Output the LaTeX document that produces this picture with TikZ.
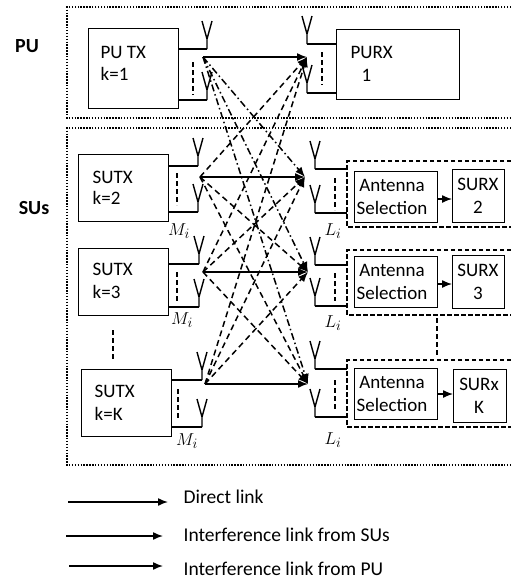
\documentclass[tikz,border=0pt]{standalone}
\usepackage{fontspec}
\setmainfont{Carlito}
\usetikzlibrary{arrows.meta}
\begin{document}
\begin{tikzpicture}[x=1pt,y=-1pt,line width=1.3pt,
  box/.style={draw,line width=1.4pt,inner sep=0pt,anchor=north west},
  txt/.style={inner sep=0pt,font=\fontsize{19}{23}\selectfont},
  lgd/.style={inner sep=0pt,anchor=west,font=\fontsize{19.5}{23}\selectfont},
  grplbl/.style={inner sep=0pt,font=\fontsize{20}{24}\selectfont\bfseries},
  mlab/.style={inner sep=0pt,font=\fontsize{19}{22}\selectfont},
  grp/.style={line width=1.8pt,dash pattern=on 1.4pt off 1.5pt},
  rxgrp/.style={line width=1.3pt,dash pattern=on 4.5pt off 2.5pt},
  sepline/.style={line width=1.5pt,dash pattern=on 5pt off 3pt},
  tip/.style={-{Latex[length=10pt,width=8pt]}},
  direct/.style={line width=1.5pt,tip},
  intsu/.style={line width=1.5pt,dash pattern=on 6pt off 4pt,tip},
  intpu/.style={line width=1.5pt,dash pattern=on 7pt off 3pt on 1.5pt off 3pt,tip},
  ant/.pic={\draw[line width=1.4pt] (0,0) -- (0,-10) (-5,-28) -- (0,-10) -- (5,-28);}
]
\useasboundingbox (0,0) rectangle (511,582);

% group frames
\draw[grp] (511,7) -| (67,118) -- (511,118);
\draw[grp] (511,128) -| (67,465) -- (511,465);
\node[grplbl] (pulbl) at (27,46) {PU};
\node[grplbl] (sulbl) at (34,208) {SUs};

% ---------- PU ----------
\node[box,minimum width=90pt,minimum height=80pt] (putx) at (88,28) {};
\node[txt,anchor=west] (putxa) at (100,52) {PU TX};
\node[txt,anchor=west] (putxb) at (100,74) {k=1};
\draw (178,49) -- (207,49) pic{ant};
\draw (178,100) -- (207,100) pic{ant};
\draw[sepline] (193,62) -- (193,95);

\node[box,minimum width=123pt,minimum height=70pt] (purx) at (336,29) {};
\node[txt,anchor=west] (purxa) at (350,52) {PURX};
\node[txt,anchor=west] (purxb) at (361,75) {1};
\draw (336,44) -- (307,44) pic{ant};
\draw (336,93) -- (307,93) pic{ant};
\draw[sepline] (322,52) -- (322,85);

% ---------- SU transmitters ----------
\node[box,minimum width=90pt,minimum height=67pt] (sutx2) at (78,154) {};
\node[txt,anchor=west] (sutx2a) at (92,177) {SUTX};
\node[txt,anchor=west] (sutx2b) at (92,198) {k=2};
\draw (168,166) -- (198,166) pic{ant};
\draw (168,212) -- (198,212) pic{ant};
\draw[sepline] (177,173) -- (177,205);
\node[mlab] (m2) at (179,231) {$M_i$};

\node[box,minimum width=90pt,minimum height=67pt] (sutx3) at (78,248) {};
\node[txt,anchor=west] (sutx3a) at (92,269) {SUTX};
\node[txt,anchor=west] (sutx3b) at (92,292) {k=3};
\draw (168,264) -- (199,264) pic{ant};
\draw (168,307) -- (199,307) pic{ant};
\draw[sepline] (177,272) -- (177,303);
\node[mlab] (m3) at (182,320) {$M_i$};

\draw[sepline] (113,330) -- (113,360);

\node[box,minimum width=90pt,minimum height=67pt] (sutxK) at (81,369) {};
\node[txt,anchor=west] (sutxKa) at (94,391) {SUTX};
\node[txt,anchor=west] (sutxKb) at (94,414) {k=K};
\draw (171,380) -- (202,380) pic{ant};
\draw (171,427) -- (202,427) pic{ant};
\draw[sepline] (178,389) -- (178,420);
\node[mlab] (mK) at (187,441) {$M_i$};

% ---------- SU receivers ----------
\draw[rxgrp] (511,161) -| (347,227) -- (511,227);
\node[box,minimum width=83pt,minimum height=51pt] (as2) at (354,171) {};
\node[txt,align=center] (as2t) at (392,197) {Antenna\\Selection};
\node[box,minimum width=52pt,minimum height=53pt] (surx2) at (452,169) {};
\node[txt,align=center] (surx2t) at (478,196) {SURX\\2};
\draw[tip] (as2.east |- 0,199) -- (surx2.west |- 0,199);
\draw (347,169) -- (315,169) pic{ant};
\draw (347,213) -- (315,213) pic{ant};
\draw[sepline] (335,178) -- (335,210);
\node[mlab] (l2) at (333,231) {$L_i$};

\draw[rxgrp] (511,250) -| (347,315) -- (511,315);
\node[box,minimum width=83pt,minimum height=51pt] (as3) at (354,256) {};
\node[txt,align=center] (as3t) at (392,282) {Antenna\\Selection};
\node[box,minimum width=52pt,minimum height=53pt] (surx3) at (452,255) {};
\node[txt,align=center] (surx3t) at (478,282) {SURX\\3};
\draw[tip] (as3.east |- 0,284) -- (surx3.west |- 0,284);
\draw (347,265) -- (315,265) pic{ant};
\draw (347,306) -- (315,306) pic{ant};
\draw[sepline] (335,273) -- (335,301);
\node[mlab] (l3) at (333,323) {$L_i$};

\draw[sepline] (437,318) -- (437,357);

\draw[rxgrp] (511,360) -| (347,427) -- (511,427);
\node[box,minimum width=83pt,minimum height=51pt] (asK) at (354,368) {};
\node[txt,align=center] (asKt) at (392,394) {Antenna\\Selection};
\node[box,minimum width=53pt,minimum height=53pt] (surxK) at (453,369) {};
\node[txt,align=center] (surxKt) at (479,396) {SURx\\K};
\draw[tip] (asK.east |- 0,394) -- (surxK.west |- 0,394);
\draw (347,369) -- (315,369) pic{ant};
\draw (347,417) -- (315,417) pic{ant};
\draw[sepline] (335,380) -- (335,411);
\node[mlab] (lK) at (333,440) {$L_i$};

% ---------- link end points ----------
\coordinate (t1) at (203,57);
\coordinate (t2) at (200,177);
\coordinate (t3) at (203,272);
\coordinate (tK) at (205,384);
\coordinate (r1) at (307,57);
\coordinate (r2) at (305,177);
\coordinate (r3) at (308,272);
\coordinate (rK) at (308,384);

% interference from PU
\draw[intpu] (t1) -- (r2);
\draw[intpu] (t1) -- (r3);
\draw[intpu] (t1) -- (rK);
% interference from SUs
\draw[intsu] (t2) -- (r1);
\draw[intsu] (t3) -- (r1);
\draw[intsu] (tK) -- (r1);
\draw[intsu] (t2) -- (r3);
\draw[intsu] (t2) -- (rK);
\draw[intsu] (t3) -- (r2);
\draw[intsu] (t3) -- (rK);
\draw[intsu] (tK) -- (r2);
\draw[intsu] (tK) -- (r3);
% direct links
\draw[direct] (t1) -- (r1);
\draw[direct] (t2) -- (r2);
\draw[direct] (t3) -- (r3);
\draw[direct] (tK) -- (rK);

% ---------- legend ----------
\coordinate (la1) at (68,502); \coordinate (lb1) at (168,502);
\coordinate (la2) at (66,536); \coordinate (lb2) at (163,536);
\coordinate (la3) at (69,566); \coordinate (lb3) at (163,566);
\draw[direct] (la1) -- (lb1);
\draw[direct] (la2) -- (lb2);
\draw[direct] (la3) -- (lb3);
\node[lgd] (lg1) at (183,497) {Direct link};
\node[lgd] (lg2) at (183,535) {Interference link from SUs};
\node[lgd] (lg3) at (183,569) {Interference link from PU};
\end{tikzpicture}
\end{document}
